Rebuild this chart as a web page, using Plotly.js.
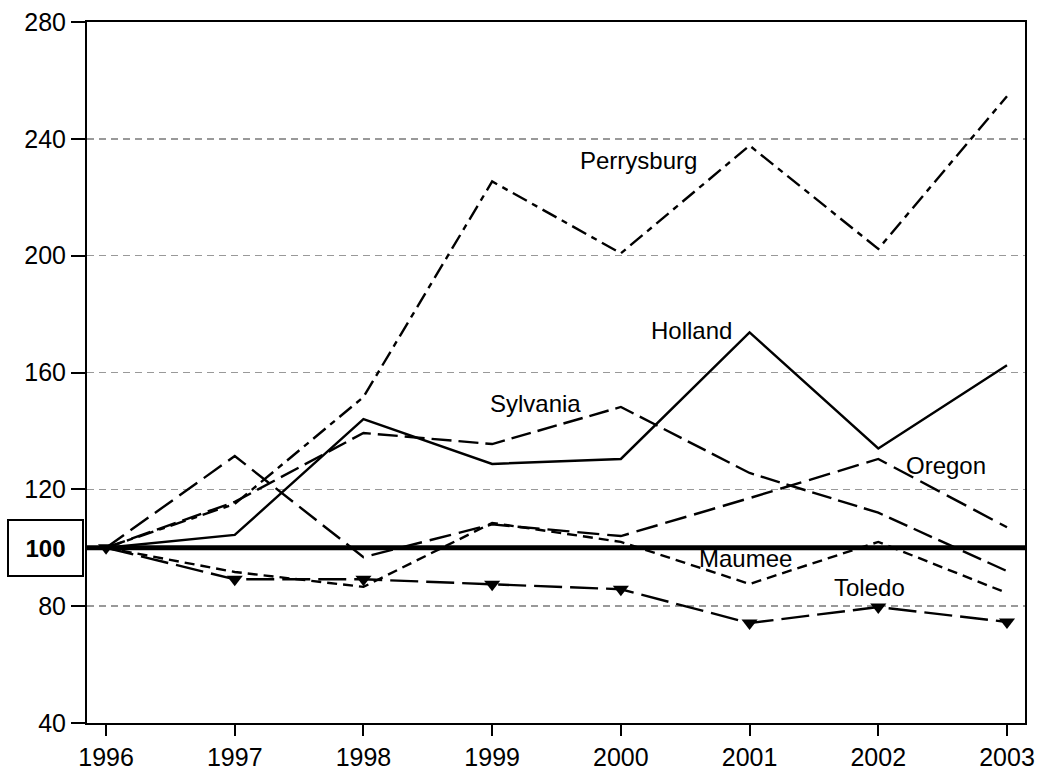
<!DOCTYPE html>
<html>
<head>
<meta charset="utf-8">
<script src="https://cdn.plot.ly/plotly-3.0.1.min.js"></script>
<style>html,body{margin:0;padding:0;background:#fff}#chart{width:1044px;height:773px}</style>
</head>
<body>
<div id="chart"></div>
<script>
const years = [1996, 1997, 1998, 1999, 2000, 2001, 2002, 2003];
const perrysburg = [100, 115, 151.6, 225.4, 200.8, 237.7, 202.3, 254.6];
const holland    = [100, 104.4, 144, 128.7, 130.4, 173.7, 134, 162.5];
const sylvania   = [100, 115.7, 139.3, 135.5, 148.2, 125.6, 112, 92];
const oregon     = [100, 131.4, 96.8, 108, 104, 117, 130.4, 107];
const maumee     = [100, 91.7, 86.6, 108.5, 102, 87.6, 102, 84.5];
const toledo     = [100, 89.2, 89.2, 87.5, 85.8, 74.2, 79.7, 74.6];
const yTicks = [40, 80, 120, 160, 200, 240, 280];
const baseline = 100;

const labels = [
  {text: 'Perrysburg', x: 2000.14, y: 232.5},
  {text: 'Holland', x: 2000.55, y: 174.5},
  {text: 'Sylvania', x: 1999.34, y: 149.5},
  {text: 'Oregon', x: 2002.53, y: 128.3},
  {text: 'Maumee', x: 2000.97, y: 96.2},
  {text: 'Toledo', x: 2001.93, y: 86.4}
];

function line(name, y, dash, extra) {
  return Object.assign({
    x: years, y: y, name: name, type: 'scatter', mode: 'lines',
    line: {color: '#000', width: 2.4, dash: dash}
  }, extra || {});
}

const traces = [
  line('Perrysburg', perrysburg, '16px,6px,6px,6px'),
  line('Holland', holland, 'solid'),
  line('Sylvania', sylvania, '20px,7px'),
  line('Oregon', oregon, '22px,8px'),
  line('Maumee', maumee, '10px,6px'),
  line('Toledo', toledo, '28px,8px', {mode: 'lines+markers', marker: {symbol: 'triangle-down', size: 14, color: '#000'}})
];

const annotations = labels.map(l => ({
  text: l.text, x: l.x, y: l.y, xref: 'x', yref: 'y', showarrow: false,
  font: {family: 'Liberation Sans, Arial, sans-serif', size: 24, color: '#000'},
  xanchor: 'center', yanchor: 'middle'
}));
annotations.push({
  text: '<b>' + baseline + '</b>', x: -0.044, y: baseline, xref: 'paper', yref: 'y',
  showarrow: false, xanchor: 'center', yanchor: 'middle',
  font: {family: 'Liberation Sans, Arial, sans-serif', size: 24, color: '#000'},
  bordercolor: '#000', borderwidth: 2, borderpad: 11, bgcolor: '#fff', width: 51, height: 32
});

const layout = {
  width: 1044, height: 773,
  margin: {l: 87, r: 19, t: 22, b: 50},
  paper_bgcolor: '#fff', plot_bgcolor: '#fff',
  showlegend: false,
  font: {family: 'Liberation Sans, Arial, sans-serif', size: 25, color: '#000'},
  xaxis: {
    range: [1995.852, 2003.14], tickvals: years, ticktext: years.map(String),
    showgrid: false, zeroline: false,
    showline: true, linecolor: '#000', linewidth: 2, mirror: true,
    ticks: 'outside', ticklen: 11, tickwidth: 2, tickcolor: '#000',
    tickfont: {size: 25}
  },
  yaxis: {
    range: [40, 280], tickvals: yTicks,
    showgrid: true, gridcolor: '#999', gridwidth: 1.5, griddash: '7px,5px',
    zeroline: false,
    showline: true, linecolor: '#000', linewidth: 2, mirror: true,
    ticks: 'outside', ticklen: 14, tickwidth: 2, tickcolor: '#000',
    tickfont: {size: 25}
  },
  shapes: [{
    type: 'line', xref: 'paper', yref: 'y', x0: 0, x1: 1, y0: baseline, y1: baseline,
    line: {color: '#000', width: 5}, layer: 'below'
  }],
  annotations: annotations
};

Plotly.newPlot('chart', traces, layout, {displayModeBar: false, staticPlot: true});
</script>
</body>
</html>
